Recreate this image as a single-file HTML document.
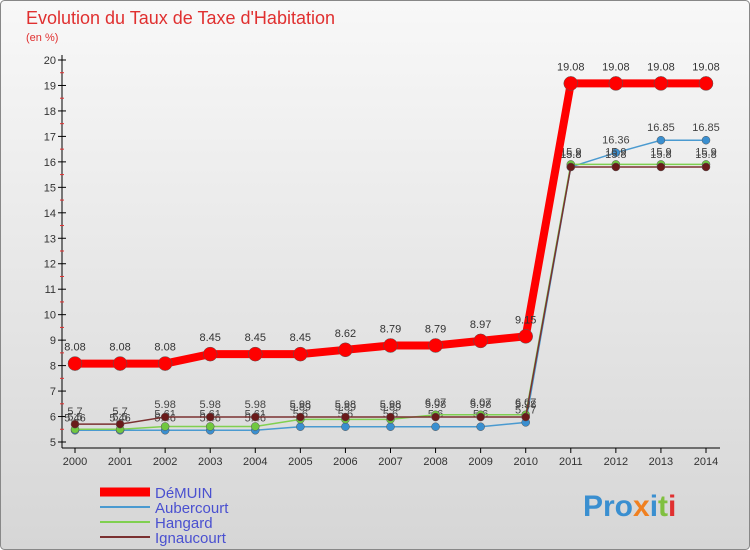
<!DOCTYPE html>
<html><head><meta charset="utf-8"><style>
body{margin:0;background:#fff;}
svg{display:block;font-family:"Liberation Sans",sans-serif;}
</style></head><body>
<svg id="c" width="750" height="550">
<defs><linearGradient id="bg" x1="0" y1="0" x2="0" y2="1"><stop offset="0" stop-color="#f8f8f8"/><stop offset="1" stop-color="#d6d6d6"/></linearGradient></defs>
<rect x="0.5" y="0.5" width="749" height="549" rx="4" fill="url(#bg)" stroke="#888"/>
<text x="26" y="24" font-size="18" fill="#e03030">Evolution du Taux de Taxe d'Habitation</text>
<text x="26" y="41" font-size="11" fill="#e03030">(en %)</text>
<g id="axes"></g><g id="series"></g><g id="legend"></g>
<text x="583" y="516" font-size="30" font-weight="bold" fill="#3a8fd0">Pro<tspan fill="#f08020">x</tspan><tspan fill="#3a8fd0">i</tspan><tspan fill="#80c040">t</tspan><tspan fill="#e03030">i</tspan></text>
</svg>
<script>
const years=[2000,2001,2002,2003,2004,2005,2006,2007,2008,2009,2010,2011,2012,2013,2014];
const demuin=[8.08,8.08,8.08,8.45,8.45,8.45,8.62,8.79,8.79,8.97,9.15,19.08,19.08,19.08,19.08];
const aubercourt=[5.46,5.46,5.46,5.46,5.46,5.6,5.6,5.6,5.6,5.6,5.77,15.8,16.36,16.85,16.85];
const hangard=[5.5,5.5,5.61,5.61,5.61,5.89,5.89,5.89,6.07,6.07,6.07,15.9,15.9,15.9,15.9];
const ignaucourt=[5.7,5.7,5.98,5.98,5.98,5.98,5.98,5.98,5.98,5.98,5.98,15.8,15.8,15.8,15.8];
const yTicks=[5,6,7,8,9,10,11,12,13,14,15,16,17,18,19,20];
const NS="http://www.w3.org/2000/svg";
const X=i=>75+i*(706-75)/(years.length-1);
const Y=v=>442-(v-5)*(442-60)/15;
function mk(p,t,a){const e=document.createElementNS(NS,t);for(const k in a)e.setAttribute(k,a[k]);p.appendChild(e);return e;}
const ax=document.getElementById('axes');
const yl=mk(ax,'line',{x1:62,y1:55,x2:62,y2:448,stroke:'#000'});


const xl=mk(ax,'line',{x1:62,y1:448,x2:720,y2:448,stroke:'#000'});


yTicks.forEach(v=>{
 mk(ax,'line',{x1:58,y1:Y(v),x2:66,y2:Y(v),stroke:'#000'});
 if(v<20)mk(ax,'line',{x1:60,y1:Y(v+0.5),x2:64,y2:Y(v+0.5),stroke:'#e03030'});
 const t=mk(ax,'text',{x:56,y:Y(v)+4,'font-size':11,'text-anchor':'end',fill:'#333'});t.textContent=v;
 
 
});
years.forEach((y,i)=>{
 mk(ax,'line',{x1:X(i),y1:448,x2:X(i),y2:453,stroke:'#000'});
 const t=mk(ax,'text',{x:X(i),y:465,'font-size':11,'text-anchor':'middle',fill:'#333'});t.textContent=y;
 
 
});
const sg=document.getElementById('series');
function series(name,vals,color,w,r,dot,lblColor,off){
 const g=mk(sg,'g',{});
 
 
 mk(g,'polyline',{points:vals.map((v,i)=>X(i)+','+Y(v)).join(' '),fill:'none',stroke:color,'stroke-width':w});
 vals.forEach((v,i)=>{
  const c=mk(g,'circle',{cx:X(i),cy:Y(v),r:r,fill:dot,stroke:'#555','stroke-width':0.5});
  
  
  const t=mk(g,'text',{x:X(i),y:Y(v)+off,'font-size':11,'text-anchor':'middle',fill:lblColor});t.textContent=String(v).replace(/\.?0+$/,'');
  
  
 });
}
series('aubercourt',aubercourt,'#4a9ad0',1.5,4,'#3a8fd0','#444',-9);
series('hangard',hangard,'#80d050',1.5,4,'#70c840','#444',-9);
series('ignaucourt',ignaucourt,'#7a3030',1.5,4,'#6a1a1a','#444',-9);
series('demuin',demuin,'#ff0000',8,7,'#ff0000','#333',-13);
const lg=document.getElementById('legend');
[['DéMUIN','#ff0000',9],['Aubercourt','#4a9ad0',2],['Hangard','#80d050',2],['Ignaucourt','#7a3030',2]].forEach((d,i)=>{
 const y=492+i*15;
 const g=mk(lg,'g',{});
 
 
 mk(g,'line',{x1:100,y1:y,x2:150,y2:y,stroke:d[1],'stroke-width':d[2]});
 const t=mk(g,'text',{x:155,y:y+6,'font-size':15,fill:'#4a50d0'});t.textContent=d[0];
});
</script>
</body></html>
